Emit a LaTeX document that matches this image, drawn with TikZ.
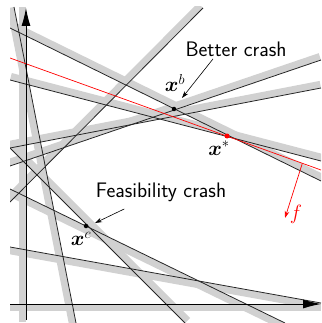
\documentclass[tikz,border=0pt]{standalone}
\usepackage{amsmath}
\usetikzlibrary{calc,arrows.meta}
\newcommand\myband[4]{\draw[band] ($(#1)!3.7pt!#3:(#2)$) -- ($(#2)!3.7pt!#4:(#1)$);}
\begin{document}
\begin{tikzpicture}[x=1pt,y=-1pt,
  band/.style={line width=7pt, black!18},
  cline/.style={line width=0.8pt, black!85},
  axisline/.style={line width=0.9pt, black, -{Latex[length=18pt,width=9pt]}},
  redline/.style={line width=0.7pt, red},
  labfont/.style={font=\sffamily\fontsize{21}{25}\selectfont},
  mathfont/.style={font=\fontsize{21}{25}\selectfont},
  labarrow/.style={line width=0.6pt, black, -{Stealth[length=7pt,width=4.5pt]}},
  dot/.style={circle, fill=black, inner sep=0pt, minimum size=4.5pt}]
\useasboundingbox (0,0) rectangle (321,323);
% line end points
\coordinate (L1a) at (14,7);   \coordinate (L1b) at (76,323);
\coordinate (L2a) at (10,28);  \coordinate (L2b) at (321,181);
\coordinate (L3a) at (10,80);  \coordinate (L3b) at (321,161);
\coordinate (L4a) at (10,202); \coordinate (L4b) at (203,8);
\coordinate (L5a) at (10,166); \coordinate (L5b) at (321,60);
\coordinate (L6a) at (10,148); \coordinate (L6b) at (321,88);
\coordinate (L7a) at (10,189); \coordinate (L7b) at (285,323);
\coordinate (L8a) at (10,247); \coordinate (L8b) at (321,303);
\coordinate (L9a) at (10,148); \coordinate (L9b) at (185,323);
\coordinate (Ra) at (10,58);   \coordinate (Rb) at (321,170);
\coordinate (Va) at (26,320);  \coordinate (Vb) at (26,8);
\coordinate (Ha) at (10,304);  \coordinate (Hb) at (321,304);
\begin{scope}
\clip (10,7) rectangle (321,323);
% bands
\draw[band] (22.3,7) -- (22.3,322);
\draw[band] (10,307.7) -- (321,307.7);
\myband{L1a}{L1b}{-90}{90}
\myband{L2a}{L2b}{90}{-90}
\myband{L3a}{L3b}{90}{-90}
\myband{L4a}{L4b}{90}{-90}
\myband{L5a}{L5b}{90}{-90}
\myband{L6a}{L6b}{90}{-90}
\myband{L7a}{L7b}{-90}{90}
\myband{L8a}{L8b}{-90}{90}
\myband{L9a}{L9b}{90}{-90}
% constraint lines
\foreach \n in {1,...,9} {\draw[cline] (L\n a) -- (L\n b);}
\draw[redline] (Ra) -- (Rb);
\end{scope}
% axes
\draw[axisline] (Va) -- (Vb);
\draw[axisline] (Ha) -- (Hb);
% points
\node[dot] (xb) at (174,109) {};
\node[dot, fill=red, minimum size=5pt] (xs) at (227,136) {};
\node[dot] (xc) at (86,226) {};
% labels
\node[mathfont] (lxb) at (175,83) {$\boldsymbol{x}^b$};
\node[mathfont] (lxs) at (219,148) {$\boldsymbol{x}^*$};
\node[mathfont] (lxc) at (81,239) {$\boldsymbol{x}^c$};
\node[labfont] (bc) at (236,49) {Better crash};
\node[labfont] (fc) at (161,192) {Feasibility crash};
\draw[labarrow] ($(bc.south)+(-23,-1)$) -- ($(xb)+(8,-11)$);
\draw[labarrow] ($(fc.south west)+(32,4)$) -- ($(xc)+(9,-3)$);
% objective direction
\coordinate (fs) at ($(Ra)!0.94!(Rb)$);
\coordinate (fe) at (285,218);
\draw[redline, -{Stealth[length=7pt,width=4.5pt]}] (fs) -- (fe);
\node[mathfont, text=red] (fl) at (296,214) {$f$};
\end{tikzpicture}
\end{document}
